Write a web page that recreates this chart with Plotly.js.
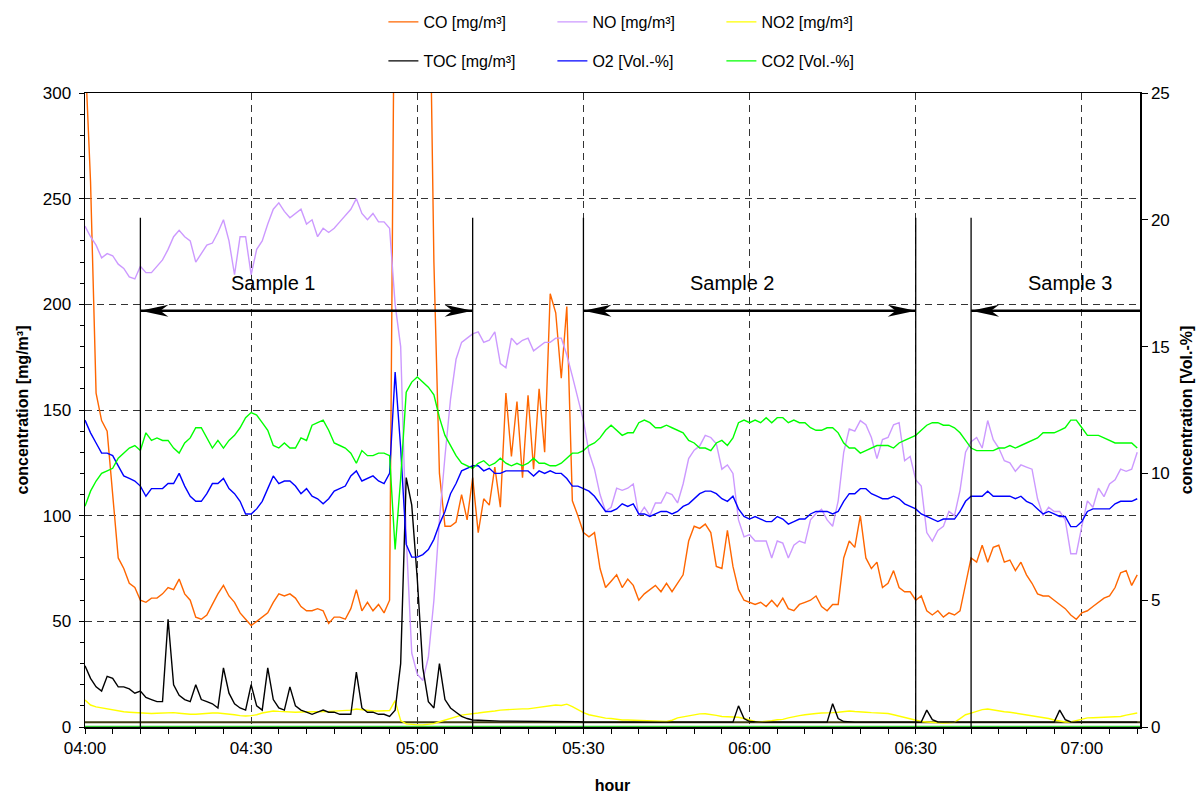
<!DOCTYPE html>
<html>
<head>
<meta charset="utf-8">
<script src="https://cdn.plot.ly/plotly-3.0.1.min.js"></script>
<style>html,body{margin:0;padding:0;background:#fff;}#chart{width:1200px;height:794px;}</style>
</head>
<body>
<div id="chart"></div>
<script>
// ---- sampling: one reading per minute starting 04:00 ----
const dayPrefix = '2024-01-01 ';
const startMinuteOfDay = 240;   // 04:00
const stepMinutes = 1;
const rangeStart = '2024-01-01 04:00:00';
const rangeEnd = '2024-01-01 07:10:30';

// ---- series (left axis, mg/m³) ----
const coValues = [
320,258,158,145,140,110,80,75,68,66,
60,59,61,61,63,66,65,70,63,60,
52,51,53,58,63,67,62,59,54,51,
48,50,52,54,59,63,62,63,61,57,
55,55,56,55,49,52,52,51,56,65,
55,59,55,58,54,60,400,400,400,400,
400,400,400,220,120,95,95,97,110,98,
118,92,108,105,123,104,158,128,154,118,
157,122,160,130,205,196,165,199,107,100,
92,90,92,75,66,69,72,66,70,67,
60,63,65,67,64,68,64,68,72,88,
95,94,96,92,76,75,93,76,65,60,
59,58,59,57,60,57,61,56,55,58,
59,60,62,57,55,58,58,80,88,85,
100,80,75,78,66,68,74,66,64,64,
60,62,55,53,55,52,54,53,55,68,
80,78,86,78,85,86,78,79,74,78,
72,68,63,62,62,60,58,56,53,51,
54,55,57,59,61,62,66,73,74,67,
72];

const noValues = [
237,232,228,222,224,223,219,217,213,212,
218,215,215,218,221,226,232,235,232,230,
220,224,228,229,234,240,230,214,232,232,
214,226,230,238,245,248,244,241,243,245,
238,240,232,236,234,236,239,242,245,250,
243,240,243,239,239,236,200,180,90,35,
25,22,33,60,98,128,155,174,182,184,
186,187,182,183,187,172,170,184,181,183,
184,178,180,182,182,184,184,176,166,156,
145,130,122,110,102,104,113,112,113,115,
100,104,100,106,106,111,110,106,115,127,
131,133,138,137,134,122,124,120,98,90,
91,88,88,88,80,88,87,80,86,88,
87,98,101,103,98,95,107,130,141,140,
145,143,137,127,136,137,143,144,126,128,
117,114,92,88,93,95,102,100,112,130,
135,137,132,145,136,132,126,125,121,124,
123,122,108,100,104,102,102,98,82,82,
95,107,104,113,109,115,117,122,121,122,
130];

const no2Values = [
12.8,10.4,9.5,9,8.5,8,7.5,7.2,7,6.8,
6.6,6.6,6.4,6.5,6.6,6.6,6.8,6.5,6.2,6.0,
6.0,6.3,6.5,6.6,6.6,6.4,6.0,5.8,5.4,5.2,
5.4,5.8,6.6,7.2,7.6,7.4,7.2,7.1,7.0,7.1,
7.1,7.2,7.1,7.2,7.3,7.5,7.6,7.6,8.0,8.5,
8.2,7.8,7.6,7.6,7.6,7.8,12.5,3.0,1.5,1.2,
1.0,1.0,1.2,1.6,2.5,3.3,4.3,5.0,5.6,6.0,
6.2,6.6,7.0,7.2,7.6,8.0,8.2,8.4,8.5,8.6,
8.6,9.0,9.4,9.6,10.0,10.4,10.2,10.8,9.6,8.0,
6.8,5.8,5.2,4.7,4.2,4.0,3.6,3.3,3.3,3.2,
3.0,2.8,2.6,2.5,2.4,2.6,3.2,4.3,4.8,5.3,
5.8,6.2,6.3,6.0,5.5,5.0,4.8,4.7,4.6,4.0,
3.2,2.6,2.4,2.6,3.0,3.4,3.6,4.3,5.0,5.4,
5.8,6.2,6.4,6.6,6.6,6.8,7.0,7.4,7.6,7.3,
7.0,7.0,6.8,6.6,6.6,6.4,5.8,5.2,4.7,4.0,
3.2,2.6,2.4,2.2,2.0,1.9,2.0,2.2,4.0,5.8,
6.6,7.4,8.2,8.5,8.0,7.6,7.2,7.0,6.6,6.2,
5.8,5.4,4.8,4.3,4.0,3.3,2.8,2.4,2.4,3.0,
3.8,4.3,4.4,4.5,4.6,4.7,4.7,5.0,5.6,6.2,
6.6];

const tocValues = [
29,23,19,17,24,23,19,19,18,16,
17,14,13,12,12,51,20,15,13,12,
20,13,12,11,9,28,16,11,9,8,
20,10,8,28,13,9,8,19,10,8,
7,6,7,8,7,7,6,6,6,26,
9,7,7,6,6,5,8,30,118,105,
70,28,12,9,30,13,9,7,5,4,
3.3,3.2,3.0,3.0,2.9,2.8,2.8,2.8,2.7,2.7,
2.7,2.6,2.6,2.6,2.6,2.5,2.5,2.5,2.5,2.5,
2.4,2.4,2.4,2.4,2.3,2.3,2.3,2.3,2.3,2.3,
2.3,2.3,2.3,2.3,2.3,2.3,2.3,2.3,2.3,2.3,
2.3,2.3,2.3,2.3,2.3,2.3,2.3,2.3,10,4,
2.6,2.3,2.3,2.3,2.3,2.3,2.3,2.3,2.3,2.3,
2.3,2.3,2.3,2.3,2.3,11,4,2.6,2.3,2.3,
2.3,2.3,2.3,2.3,2.3,2.3,2.3,2.3,2.3,2.3,
2.3,2.3,8,3.5,2.4,2.3,2.3,2.3,2.3,2.3,
2.3,2.3,2.3,2.3,2.3,2.3,2.3,2.3,2.3,2.3,
2.3,2.3,2.3,2.3,2.3,2.3,8,3.5,2.4,2.3,
2.3,2.3,2.3,2.3,2.3,2.3,2.3,2.3,2.3,2.3,
2.3];

// ---- series (right axis, Vol.-%) ----
const o2Values = [
12.1,11.6,11.2,10.8,10.8,10.7,10.3,9.9,9.8,9.7,
9.5,9.1,9.4,9.4,9.4,9.6,9.6,10.0,9.5,9.1,
8.9,8.9,9.2,9.6,9.6,9.8,9.4,9.2,8.9,8.4,
8.4,8.6,8.9,9.4,9.9,9.6,9.7,9.7,9.5,9.2,
9.4,9.1,9.0,8.8,9.0,9.3,9.4,9.5,9.9,10.1,
9.7,9.8,9.9,9.7,9.6,10.0,14.0,11.0,7.2,6.7,
6.7,6.8,7.0,7.4,8.0,8.5,9.2,9.6,10.1,10.2,
10.3,10.3,10.1,10.2,10.0,10.0,10.1,10.1,10.1,10.1,
10.1,9.9,10.1,10.0,10.1,10.0,10.0,9.8,9.5,9.5,
9.4,9.3,9.1,8.8,8.5,8.5,8.6,8.8,8.7,8.8,
8.4,8.4,8.3,8.4,8.5,8.5,8.4,8.5,8.7,8.8,
9.0,9.2,9.3,9.3,9.2,9.0,8.9,9.1,8.6,8.3,
8.2,8.3,8.2,8.1,8.1,8.3,8.2,8.0,8.1,8.2,
8.2,8.4,8.5,8.5,8.5,8.4,8.5,8.9,9.2,9.2,
9.4,9.4,9.2,9.1,9.0,9.0,9.1,9.0,8.8,8.7,
8.6,8.4,8.3,8.2,8.1,8.2,8.2,8.2,8.5,8.9,
9.1,9.1,9.1,9.3,9.1,9.1,9.1,9.1,9.0,9.1,
8.9,8.8,8.6,8.4,8.5,8.4,8.3,8.3,7.9,7.9,
8.1,8.5,8.6,8.6,8.6,8.6,8.8,8.9,8.9,8.9,
9.0];

const co2Values = [
8.7,9.3,9.7,10.0,10.1,10.2,10.6,10.8,11.0,11.1,
10.9,11.6,11.3,11.4,11.3,11.3,11.0,10.8,11.2,11.4,
11.8,11.8,11.4,11.0,11.3,11.0,11.3,11.5,11.8,12.2,
12.4,12.3,12.0,11.7,11.1,11.0,11.2,11.0,11.0,11.4,
11.3,11.9,12.0,12.1,11.7,11.2,11.1,11.0,10.8,10.4,
10.9,10.7,10.7,10.8,10.8,10.7,7.0,9.8,13.2,13.6,
13.8,13.6,13.4,13.1,12.2,11.5,11.1,10.7,10.4,10.3,
10.2,10.4,10.5,10.3,10.4,10.6,10.4,10.3,10.4,10.3,
10.4,10.6,10.4,10.4,10.3,10.3,10.4,10.6,10.8,10.8,
10.9,11.1,11.2,11.4,11.7,11.9,11.7,11.5,11.6,11.6,
12.0,12.1,12.0,11.8,11.8,11.9,11.8,11.7,11.6,11.3,
11.2,11.0,11.0,10.9,11.2,11.3,11.1,11.4,12.0,12.1,
12.0,12.1,12.0,12.2,12.0,12.2,12.2,12.0,12.1,12.0,
12.0,11.8,11.7,11.7,11.8,11.8,11.6,11.2,11.0,11.0,
10.8,10.9,11.0,11.1,11.1,11.1,11.0,11.2,11.3,11.4,
11.5,11.7,11.9,12.0,12.0,11.9,11.9,11.8,11.6,11.3,
11.0,10.9,10.9,10.9,10.9,11.0,11.0,11.1,11.0,11.1,
11.2,11.3,11.4,11.6,11.6,11.6,11.7,11.8,12.1,12.1,
11.8,11.5,11.5,11.5,11.4,11.3,11.2,11.2,11.2,11.2,
11.0];

// flat reference lines drawn along the bottom of the chart
const refLineTimes = [rangeStart, rangeEnd];
const bottomLineMg = [2.2, 2.2];
const bottomLineVol = [0, 0];

// ---- sampling periods ----
const sampleNames = ['Sample 1', 'Sample 2', 'Sample 3'];
const sampleStarts = ['2024-01-01 04:10:00', '2024-01-01 05:30:00', '2024-01-01 06:40:00'];
const sampleEnds = ['2024-01-01 05:10:00', '2024-01-01 06:30:00', null];
const sampleLabelTimes = ['2024-01-01 04:34:00', '2024-01-01 05:57:00', '2024-01-01 06:58:00'];
const sampleLineTop = 241;
const sampleArrowLevel = 197;
const sampleLabelLevel = 210;

// ---- tick labels ----
const xTickVals = ['2024-01-01 04:00','2024-01-01 04:30','2024-01-01 05:00','2024-01-01 05:30','2024-01-01 06:00','2024-01-01 06:30','2024-01-01 07:00'];
const xTickText = ['04:00','04:30','05:00','05:30','06:00','06:30','07:00'];

function pad(n){ return (n < 10 ? '0' : '') + n; }
function timeAt(i){
  const m = startMinuteOfDay + i * stepMinutes;
  return dayPrefix + pad(Math.floor(m / 60)) + ':' + pad(m % 60) + ':00';
}
const times = coValues.map((_, i) => timeAt(i));

const FONT = 'Liberation Sans, Arial, sans-serif';

function series(name, values, color, yaxis, legend){
  return {
    type: 'scatter', mode: 'lines', name: name,
    x: times, y: values, yaxis: yaxis, legend: legend,
    line: {color: color, width: 1.4},
    hoverinfo: 'skip'
  };
}

const traces = [
  {type:'scatter', mode:'lines', x: refLineTimes, y: bottomLineVol, yaxis:'y2', showlegend:false,
   line:{color:'#33cc33', width:2.5}, hoverinfo:'skip'},
  {type:'scatter', mode:'lines', x: refLineTimes, y: bottomLineMg, yaxis:'y', showlegend:false,
   line:{color:'#3d3d10', width:2}, hoverinfo:'skip'},
  series('CO [mg/m³]', coValues, '#ff6600', 'y', 'legend'),
  series('NO [mg/m³]', noValues, '#cc99ff', 'y', 'legend'),
  series('NO2 [mg/m³]', no2Values, '#ffff00', 'y', 'legend'),
  series('TOC [mg/m³]', tocValues, '#000000', 'y', 'legend2'),
  series('O2 [Vol.-%]', o2Values, '#0000ff', 'y2', 'legend2'),
  series('CO2 [Vol.-%]', co2Values, '#00ff00', 'y2', 'legend2')
];

// shapes: sample boundary lines, arrows and heads
const shapes = [];
const boundaries = [];
sampleStarts.forEach((s, i) => { boundaries.push(s); if (sampleEnds[i]) boundaries.push(sampleEnds[i]); });
boundaries.forEach(t => shapes.push({
  type:'line', xref:'x', yref:'y', x0:t, x1:t, y0:0, y1:sampleLineTop,
  line:{color:'#000', width:1.3}, layer:'above'
}));
const headLeft = 'M0,0 L28,6 L20,0 L28,-6 Z';
const headRight = 'M0,0 L-28,6 L-20,0 L-28,-6 Z';
sampleStarts.forEach((s, i) => {
  const end = sampleEnds[i] || rangeEnd;
  shapes.push({type:'line', xref:'x', yref:'y', x0:s, x1:end, y0:sampleArrowLevel, y1:sampleArrowLevel,
    line:{color:'#000', width:2.5}, layer:'above'});
  shapes.push({type:'path', xref:'x', yref:'y', xsizemode:'pixel', ysizemode:'pixel',
    xanchor:s, yanchor:sampleArrowLevel, path:headLeft, fillcolor:'#000', line:{width:0}, layer:'above'});
  if (sampleEnds[i]) {
    shapes.push({type:'path', xref:'x', yref:'y', xsizemode:'pixel', ysizemode:'pixel',
      xanchor:sampleEnds[i], yanchor:sampleArrowLevel, path:headRight, fillcolor:'#000', line:{width:0}, layer:'above'});
  }
});

const annotations = sampleNames.map((n, i) => ({
  text: n, x: sampleLabelTimes[i], y: sampleLabelLevel, xref:'x', yref:'y',
  showarrow:false, font:{family:FONT, size:20, color:'#000'}
}));

const gridDash = '7px,5px';
const legendCommon = {orientation:'h', xref:'container', yref:'container', x:0.3195,
  xanchor:'left', yanchor:'middle', entrywidth:124, entrywidthmode:'pixels',
  font:{family:FONT, size:16}, bgcolor:'rgba(0,0,0,0)', traceorder:'normal', itemwidth:30};
const layout = {
  width: 1200, height: 794,
  margin: {l:85, r:60, t:93, b:67},
  paper_bgcolor:'#fff', plot_bgcolor:'#fff',
  font: {family: FONT, size: 17, color:'#000'},
  showlegend: true,
  legend: Object.assign({}, legendCommon, {y: 1 - 22/794}),
  legend2: Object.assign({}, legendCommon, {y: 1 - 61/794}),
  xaxis: {
    type:'date', range:[rangeStart, rangeEnd],
    tickmode:'array', tickvals:xTickVals, ticktext:xTickText,
    ticks:'outside', ticklen:5, tickcolor:'#000', tickwidth:1,
    minor:{dtick:300000, tick0:rangeStart, ticks:'outside', ticklen:5, tickcolor:'#000', showgrid:false},
    showline:true, linecolor:'#000', linewidth:1.5, mirror:true,
    showgrid:true, gridcolor:'#333', griddash:gridDash, gridwidth:1,
    zeroline:false, layer:'below traces',
    tickfont:{family:FONT, size:17},
    title:{text:'hour', font:{family:FONT, size:16, weight:'bold'}, standoff:25}
  },
  yaxis: {
    range:[0,300], dtick:50, tick0:0,
    ticks:'outside', ticklen:5, tickcolor:'#000',
    minor:{dtick:10, ticks:'outside', ticklen:4, tickcolor:'#000', showgrid:false},
    showline:true, linecolor:'#000', linewidth:1.5,
    showgrid:true, gridcolor:'#333', griddash:gridDash, gridwidth:1,
    zeroline:false, ticklabelstandoff:4,
    tickfont:{family:FONT, size:17},
    title:{text:'concentration [mg/m³]', font:{family:FONT, size:16, weight:'bold'}, standoff:10}
  },
  yaxis2: {
    overlaying:'y', side:'right', range:[0,25], dtick:5, tick0:0,
    ticks:'outside', ticklen:6, tickcolor:'#000',
    showline:true, linecolor:'#000', linewidth:1.5,
    showgrid:false, zeroline:false,
    tickfont:{family:FONT, size:17},
    title:{text:'concentration [Vol.-%]', font:{family:FONT, size:16, weight:'bold'}, standoff:12}
  },
  shapes: shapes,
  annotations: annotations
};

Plotly.newPlot('chart', traces, layout, {staticPlot:true, displayModeBar:false});
</script>
</body>
</html>
